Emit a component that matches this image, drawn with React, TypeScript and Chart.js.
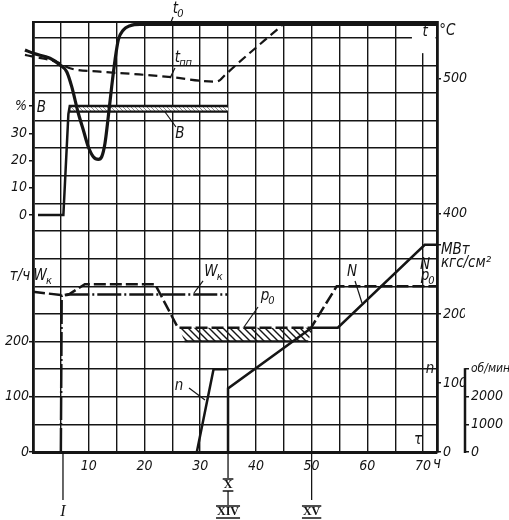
import React, { useEffect, useRef } from "react";
import { Chart, registerables } from "chart.js";

Chart.register(...registerables);

type Pt = [number, number];

// ---------------- axes / ticks ----------------
const HOUR_GRID = [0, 5, 10, 15, 20, 25, 30, 35, 40, 45, 50, 55, 60, 65, 70];
const HOUR_LABELS = [10, 20, 30, 40, 50, 60, 70];
const FLOW_GRID = [0, 50, 100, 150, 200, 250, 300, 350, 400, 450, 500, 550, 600, 650, 700, 750];
const FLOW_LABELS = [0, 100, 200];
const FUEL_TICKS = [0, 10, 20, 30, 40];
const TEMP_TICKS = [400, 500];
const POWER_TICKS = [0, 100, 200, 300];
const SPEED_TICKS = [0, 1000, 2000, 3000];

// ---------------- series (hour, value) ----------------
// live steam temperature t0, °C
const t0Series: Pt[] = [
  [-1.44, 521], [0.05, 518.5], [3.05, 514.8], [4.85, 509.9], [6.05, 504.9], [6.95, 493.8],
  [8.13, 474.1], [9.03, 461.7], [9.92, 449.3], [10.82, 441.9], [11.72, 440], [12.33, 441.9],
  [12.92, 451.9], [13.51, 471.6], [14.12, 493.8], [14.72, 513.6], [15.31, 528.4], [16.21, 535.8],
  [17.41, 539], [19.2, 540], [72.5, 540],
];
// reheat steam temperature tпп, °C
const tppSeries: Pt[] = [
  [-1.44, 517.3], [0.05, 516], [3.05, 513.6], [4.85, 511.1], [6.64, 507.4], [12.02, 504.9],
  [18.0, 503.2], [25.18, 500.7], [29.97, 498.2], [32.66, 497.5], [33.56, 498.7], [34.46, 502.4],
  [44.9, 540],
];
// fuel B, %
const fuelSeries: Pt[] = [[0.9, 0], [5.45, 0], [6.35, 37], [6.6, 40], [35, 40]];
const fuelBandLow: Pt[] = [[6.6, 38], [35, 38]];
const fuelBand: Pt[] = [[6.6, 40], [35, 40], [35, 38], [6.6, 38], [6.6, 40]];
// feed water flow Wк, t/h
const flowSeries: Pt[] = [[5.0, 0], [5.15, 283], [6.6, 285], [35, 285]];
// live steam pressure p0, kgf/cm²
const pressureSeries: Pt[] = [
  [0, 232], [5.4, 227], [6.6, 229], [9.3, 243], [21.9, 243], [26.0, 180], [49.9, 180],
  [54.5, 240], [72.5, 240],
];
const pressureBand: Pt[] = [[26.2, 180], [50.2, 180], [49.4, 160.5], [27.2, 160.5], [26.2, 180]];
const pressureBandLow: Pt[] = [[27.2, 160.5], [49.4, 160.5]];
// turbine speed n, rpm
const speedSeries: Pt[] = [[29.4, 0], [32.4, 3000], [35, 3000]];
// electrical load N, MW
const powerSeries: Pt[] = [[35, 0], [35, 92], [50, 180], [54.7, 180], [70.3, 300], [72.5, 300]];

// stage marks under the time axis
const MILESTONE_HOURS = [5.38, 35, 50];
const MILESTONE_TEXTS = [["I"], ["X", "XIV"], ["XV"]];

// text labels (hour, t/h-axis value)
type Lbl = { t: string; sub?: string; h: number; w: number; align?: "left" | "right" | "center" };
const LABELS: Lbl[] = [
  { t: "t", sub: "0", h: 25.57, w: 802 },
  { t: "t", sub: "пп", h: 25.93, w: 713 },
  { t: "B", h: 26.38, w: 575.7 },
  { t: "W", sub: "к", h: 31.95, w: 325.8 },
  { t: "p", sub: "0", h: 41.64, w: 283 },
  { t: "N", h: 57.25, w: 325.8 },
  { t: "n", h: 26.2, w: 119.5 },
  { t: "τ", h: 69.1, w: 21.7 },
  { t: "ч", h: 72.5, w: -21.7 },
  { t: "т/ч", h: -0.5, w: 318.6, align: "right" },
  { t: "W", sub: "к", h: 1.3, w: 318.6 },
  { t: "B", h: 1.5, w: 622.7 },
  { t: "t", h: 70.35, w: 760.3 },
  { t: "°C", h: 72.9, w: 762, align: "left" },
  { t: "N", h: 70.35, w: 338.5 },
  { t: "p", sub: "0", h: 70.35, w: 318 },
  { t: "МВт", h: 73.2, w: 365.7, align: "left" },
  { t: "кгс/см²", h: 73.2, w: 342, align: "left" },
  { t: "n", h: 71.25, w: 150.3 },
];
// leader lines [h1, w1, h2, w2]
const LEADERS: number[][] = [
  [25.13, 787.5, 24.77, 778.4],
  [25.48, 695, 24.59, 677],
  [23.69, 615.5, 25.66, 588.3],
  [30.51, 309.6, 28.89, 287.8],
  [40.38, 262.5, 37.87, 226.3],
  [57.79, 309.6, 59.04, 269.7],
  [28.0, 115.9, 30.87, 94.1],
];

const FONT = '"Liberation Sans Narrow", "DejaVu Sans Condensed", "Noto Sans", sans-serif';
const INK = "#151515";
const tickFont = { family: FONT, size: 14, style: "italic" as const };

const fixedTicks = (values: number[]) => (axis: any) => {
  axis.ticks = values.map((v) => ({ value: v }));
};
// zero-width axis whose labels may spill out of its (empty) box
const zeroWidth = (s: any) => {
  s.width = 0;
  s._computeLabelArea = () => undefined;
};
const pts = (s: Pt[]) => s.map(([x, y]) => ({ x, y }));

function makePattern(size: number, color: string, lw: number, back: string | null) {
  const c = document.createElement("canvas");
  c.width = size;
  c.height = size;
  const g = c.getContext("2d")!;
  if (back) {
    g.fillStyle = back;
    g.fillRect(0, 0, size, size);
  }
  g.strokeStyle = color;
  g.lineWidth = lw;
  g.beginPath();
  g.moveTo(-1, -1);
  g.lineTo(size + 1, size + 1);
  g.moveTo(size - 2, -2);
  g.lineTo(size + 2, 2);
  g.moveTo(-2, size - 2);
  g.lineTo(2, size + 2);
  g.stroke();
  return g.createPattern(c, "repeat")!;
}

function drawText(ctx: CanvasRenderingContext2D, l: Lbl, px: number, py: number) {
  const main = `italic 15px ${FONT}`;
  const small = `italic 11px ${FONT}`;
  ctx.font = main;
  const w = ctx.measureText(l.t).width;
  ctx.font = small;
  const sw = l.sub ? ctx.measureText(l.sub).width : 0;
  let x0 = px - w / 2;
  if (l.align === "left") x0 = px;
  if (l.align === "right") x0 = px - w - sw;
  ctx.fillStyle = INK;
  ctx.textBaseline = "middle";
  ctx.textAlign = "left";
  ctx.font = main;
  ctx.fillText(l.t, x0, py);
  if (l.sub) {
    ctx.font = small;
    ctx.fillText(l.sub, x0 + w - 1, py + 5);
  }
}

const overlayPlugin = {
  id: "overlay",
  beforeDatasetsDraw(chart: any) {
    const { ctx, chartArea, scales } = chart;
    // gap in the grid around the "t" label
    const x1 = scales.x.getPixelForValue(68.0);
    const y2 = scales.yW.getPixelForValue(722);
    ctx.save();
    ctx.fillStyle = "#fff";
    ctx.fillRect(x1, chartArea.top + 1.5, chartArea.right - 1.5 - x1, y2 - chartArea.top - 1.5);
    ctx.restore();
  },
  afterDraw(chart: any) {
    const { ctx, chartArea, scales } = chart;
    const xs = scales.x;
    const yw = scales.yW;
    ctx.save();
    // speed axis spine
    const yn = scales.yN;
    ctx.strokeStyle = INK;
    ctx.lineWidth = 2.5;
    ctx.beginPath();
    ctx.moveTo(yn.left, yn.getPixelForValue(0) + 1);
    ctx.lineTo(yn.left, yn.getPixelForValue(3000) - 1);
    ctx.stroke();

    // leaders
    ctx.lineWidth = 1.2;
    for (const [h1, w1, h2, w2] of LEADERS) {
      ctx.beginPath();
      ctx.moveTo(xs.getPixelForValue(h1), yw.getPixelForValue(w1));
      ctx.lineTo(xs.getPixelForValue(h2), yw.getPixelForValue(w2));
      ctx.stroke();
    }
    for (const l of LABELS) drawText(ctx, l, xs.getPixelForValue(l.h), yw.getPixelForValue(l.w));

    // milestones
    const b = chartArea.bottom;
    MILESTONE_HOURS.forEach((h, i) => {
      const x = xs.getPixelForValue(h);
      const texts = MILESTONE_TEXTS[i];
      ctx.lineWidth = 1.3;
      ctx.beginPath();
      if (texts.length === 1) {
        ctx.moveTo(x, b);
        ctx.lineTo(x, b + 48);
      } else {
        ctx.moveTo(x, b);
        ctx.lineTo(x, b + 26);
        ctx.moveTo(x, b + 39);
        ctx.lineTo(x, b + 53);
      }
      ctx.stroke();
      const ys = texts.length === 1 ? [b + 60] : [b + 33, b + 60];
      texts.forEach((t, j) => {
        const y = ys[j];
        ctx.textAlign = "center";
        ctx.textBaseline = "middle";
        ctx.fillStyle = INK;
        if (t === "I") {
          ctx.font = 'italic 16px "Liberation Serif", serif';
          ctx.fillText(t, x, y);
        } else {
          ctx.font = 'bold 12px "Liberation Serif", serif';
          const w = ctx.measureText(t).width + 2;
          ctx.fillText(t, x, y);
          ctx.lineWidth = 1.4;
          ctx.beginPath();
          ctx.moveTo(x - w / 2, y - 6);
          ctx.lineTo(x + w / 2, y - 6);
          ctx.moveTo(x - w / 2, y + 6);
          ctx.lineTo(x + w / 2, y + 6);
          ctx.stroke();
        }
      });
    });
    ctx.restore();
  },
};

export default function App() {
  const ref = useRef<HTMLCanvasElement>(null);
  useEffect(() => {
    const canvas = ref.current!;
    const hatch = makePattern(7, INK, 1.4, null);
    const fuelPat = makePattern(4, "#8a8a8a", 1, "#fff");
    const base = {
      type: "line" as const,
      xAxisID: "x",
      borderColor: INK,
      backgroundColor: INK,
      pointRadius: 0,
      borderWidth: 2.5,
      fill: false,
      tension: 0,
      clip: false as any,
    };
    const chart = new Chart(canvas, {
      type: "line",
      data: {
        datasets: [
          { ...base, label: "t0", data: pts(t0Series), yAxisID: "yT", borderWidth: 3.2, cubicInterpolationMode: "monotone" },
          { ...base, label: "tпп", data: pts(tppSeries), yAxisID: "yT", borderWidth: 2.2, borderDash: [9, 5], cubicInterpolationMode: "monotone" },
          { ...base, label: "B", data: pts(fuelSeries), yAxisID: "yB" },
          { ...base, label: "B low", data: pts(fuelBandLow), yAxisID: "yB", borderWidth: 2.2 },
          { ...base, label: "Wк", data: pts(flowSeries), yAxisID: "yW", borderDash: [24, 3, 2, 3] },
          { ...base, label: "p0", data: pts(pressureSeries), yAxisID: "yP", borderDash: [12, 4] },
          { ...base, label: "p0 low", data: pts(pressureBandLow), yAxisID: "yP", borderWidth: 2 },
          { ...base, label: "n", data: pts(speedSeries), yAxisID: "yN" },
          { ...base, label: "N", data: pts(powerSeries), yAxisID: "yP" },
          { ...base, label: "B band", data: pts(fuelBand), yAxisID: "yB", fill: "shape", backgroundColor: fuelPat, borderColor: "rgba(0,0,0,0)" },
          { ...base, label: "p0 band", data: pts(pressureBand), yAxisID: "yP", fill: "shape", backgroundColor: hatch, borderColor: "rgba(0,0,0,0)" },
        ] as any,
      },
      options: {
        responsive: false,
        animation: false,
        layout: { padding: { top: 22, left: 0, right: 0, bottom: 0 } },
        plugins: { legend: { display: false }, tooltip: { enabled: false } },
        scales: {
          x: {
            type: "linear",
            position: "bottom",
            min: 0,
            max: 72.5,
            afterBuildTicks: fixedTicks(HOUR_GRID),
            afterFit: (s: any) => { s.height = 68; },
            grid: { color: INK, lineWidth: 1.4, drawTicks: false },
            border: { display: true, color: INK, width: 3 },
            ticks: {
              autoSkip: false, maxRotation: 0, padding: 6, font: tickFont, color: INK,
              callback: (v: any) => (HOUR_LABELS.includes(v) ? String(v) : ""),
            },
          },
          xTop: {
            type: "linear",
            position: "top",
            min: 0,
            max: 72.5,
            afterFit: (s: any) => { s.height = 0; },
            grid: { drawOnChartArea: false, drawTicks: false },
            border: { display: true, color: INK, width: 2 },
            ticks: { display: false },
          },
          yW: {
            type: "linear",
            position: "left",
            weight: 2,
            min: 0,
            max: 778.4,
            afterBuildTicks: fixedTicks(FLOW_GRID),
            afterFit: (s: any) => { s.width = 33; },
            grid: {
              color: INK, lineWidth: 1.4, tickLength: 4, tickWidth: 1.5,
              tickColor: (c: any) => (FLOW_LABELS.includes(c.tick?.value) ? INK : "rgba(0,0,0,0)"),
            },
            border: { display: true, color: INK, width: 2.8 },
            ticks: {
              autoSkip: false, padding: 0, font: tickFont, color: INK,
              callback: (v: any) => (FLOW_LABELS.includes(v) ? String(v) : ""),
            },
          },
          yB: {
            type: "linear",
            position: "left",
            weight: 1,
            min: -87.04,
            max: 70.88,
            afterBuildTicks: fixedTicks(FUEL_TICKS),
            afterFit: zeroWidth,
            grid: { drawOnChartArea: false, tickLength: 4, color: INK, lineWidth: 1.5 },
            border: { display: false },
            ticks: {
              autoSkip: false, padding: 2, font: tickFont, color: INK,
              callback: (v: any) => (v === 40 ? "%" : String(v)),
            },
          },
          yT: {
            type: "linear",
            position: "right",
            weight: 0,
            min: 223.2,
            max: 541.7,
            afterBuildTicks: fixedTicks(TEMP_TICKS),
            afterFit: zeroWidth,
            grid: { drawOnChartArea: false, tickLength: 4, color: INK, lineWidth: 1.5 },
            border: { display: true, color: INK, width: 2.8 },
            ticks: { autoSkip: false, padding: 2, font: tickFont, color: INK, callback: (v: any) => String(v) },
          },
          yP: {
            type: "linear",
            position: "right",
            weight: 1,
            min: 0,
            max: 622.7,
            afterBuildTicks: fixedTicks(POWER_TICKS),
            afterFit: (s: any) => { s.width = 28; },
            grid: { drawOnChartArea: false, tickLength: 4, color: INK, lineWidth: 1.5 },
            border: { display: false },
            ticks: {
              autoSkip: false, padding: 2, font: tickFont, color: INK,
              callback: (v: any) => (v === 300 ? "" : String(v)),
            },
          },
          yN: {
            type: "linear",
            position: "right",
            weight: 2,
            min: 0,
            max: 15568,
            afterBuildTicks: fixedTicks(SPEED_TICKS),
            afterFit: (s: any) => { s.width = 44; },
            grid: { drawOnChartArea: false, tickLength: 4, color: INK, lineWidth: 1.5 },
            border: { display: false },
            ticks: {
              autoSkip: false, padding: 2, color: INK,
              font: (c: any) => ({ ...tickFont, size: c.tick?.value === 3000 ? 12 : 14 }),
              callback: (v: any) => (v === 3000 ? "об/мин" : String(v)),
            },
          },
        } as any,
      },
      plugins: [overlayPlugin as any],
    });
    return () => chart.destroy();
  }, []);
  return (
    <div style={{ position: "absolute", left: 0, top: 0, width: 509, height: 520, background: "#fff" }}>
      <canvas ref={ref} width={509} height={520} style={{ display: "block", width: 509, height: 520 }} />
    </div>
  );
}
